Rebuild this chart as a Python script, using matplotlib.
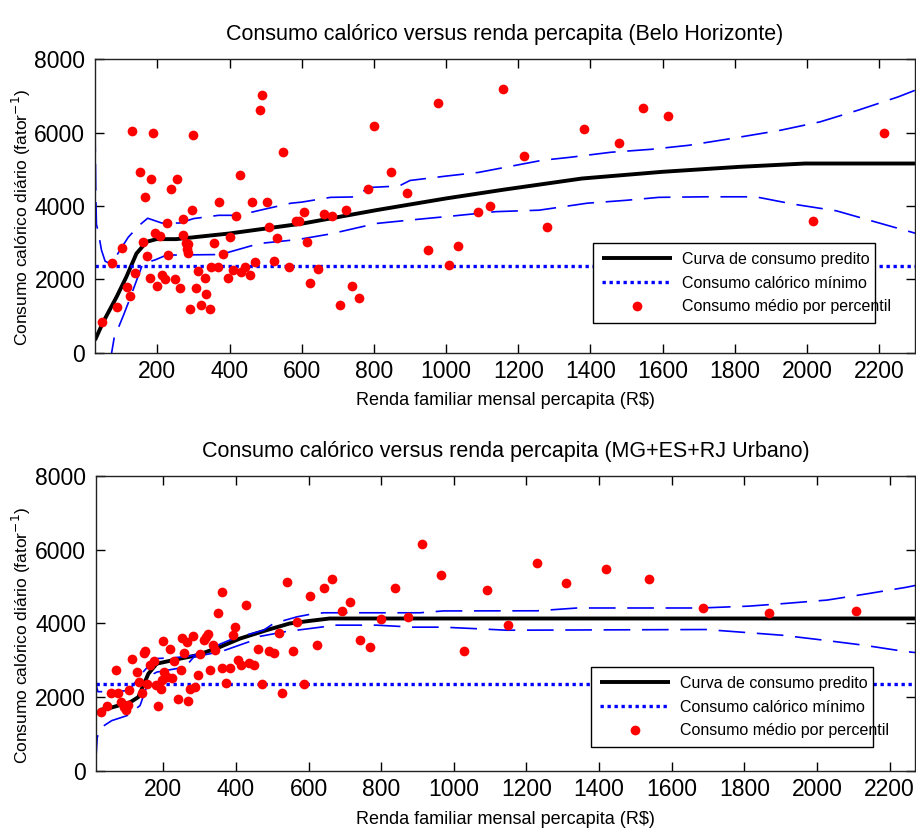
import matplotlib
matplotlib.use('Agg')
import matplotlib.pyplot as plt
import numpy as np

plt.rcParams['font.family'] = ['Liberation Sans', 'DejaVu Sans']

# --- Belo Horizonte ---
bh_renda = [47, 88, 74, 102, 116, 125, 137, 130, 188, 152, 183, 166, 161, 170, 180, 198,
            193, 207, 212, 221, 226, 230, 239, 253, 249, 262, 272, 295, 272, 278, 286, 281,
            286, 300, 289, 308, 312, 322, 331, 336, 345, 349, 368, 358, 381, 372, 395, 400,
            409, 417, 428, 432, 443, 458, 463, 471, 485, 490, 504, 509, 532, 523, 549, 564,
            583, 592, 606, 614, 622, 645, 661, 683, 705, 724, 738, 760, 784, 801, 847, 893,
            951, 979, 1007, 1033, 1089, 1121, 1157, 1216, 1281, 1382, 1479, 1546, 1615, 2016, 2214]
bh_consumo = [845, 1254, 2454, 2863, 1783, 1546, 2181, 6053, 5998, 4918, 4735, 4236, 3026, 2636,
              2045, 1827, 3263, 3173, 2110, 2001, 3544, 2655, 4463, 4754, 2001, 1764, 3637, 3890,
              3209, 2982, 2955, 2818, 2709, 5935, 1200, 1764, 2227, 1300, 2045, 1591, 1200, 2336,
              2336, 2982, 2691, 4117, 2045, 3146, 2255, 3735, 4863, 2209, 2345, 2118, 4117, 2464,
              6636, 7045, 4117, 3435, 3135, 2508, 5490, 2345, 3599, 3599, 3827, 3018, 1891, 2282,
              3781, 3727, 1309, 3890, 1827, 1491, 4463, 6180, 4918, 4345, 2800, 6800, 2400, 2918,
              3836, 4009, 7208, 5371, 3427, 6108, 5709, 6690, 6462, 3599, 5998]

bh_curva_x = [27, 50, 87, 114, 142, 170, 197, 252, 400, 603, 806, 999, 1160, 1377, 1599, 1811, 1995, 2300]
bh_curva_y = [346, 845, 1527, 2072, 2709, 3027, 3100, 3100, 3255, 3527, 3890, 4209, 4450, 4754, 4936, 5071, 5163, 5163]

bh_sup_x = [27, 29, 31, 36, 45, 55, 65, 77, 119, 150, 173, 212, 262, 300, 370, 425, 485, 570,
            600, 680, 740, 790, 870, 900, 1000, 1090, 1175, 1266, 1346, 1457, 1568, 1673, 1791,
            1927, 2037, 2143, 2253, 2300]
bh_sup_y = [6200, 4500, 3500, 3300, 2800, 2500, 2450, 2500, 3150, 3480, 3670, 3540, 3540, 3660,
            3750, 3750, 3890, 4080, 4110, 4240, 4250, 4510, 4550, 4700, 4820, 4920, 5080, 5250,
            5335, 5470, 5550, 5660, 5845, 6070, 6300, 6620, 6980, 7160]

bh_inf_x = [68, 80, 105, 119, 160, 192, 225, 372, 400, 483, 590, 681, 806, 907, 1017, 1138,
            1258, 1391, 1500, 1590, 1720, 1858, 1963, 2082, 2189, 2300]
bh_inf_y = [-300, 400, 1000, 1355, 2445, 2527, 2664, 2680, 2750, 2982, 3090, 3245, 3527, 3627,
            3730, 3850, 3890, 4080, 4160, 4240, 4255, 4255, 4054, 3872, 3572, 3263]

# --- MG+ES+RJ Urbano ---
mg_renda = [28, 46, 55, 69, 74, 83, 91, 98, 104, 107, 114, 129, 132, 141, 147, 150, 156, 164,
            175, 180, 186, 193, 196, 200, 202, 211, 219, 223, 230, 241, 248, 251, 257, 266, 269,
            274, 283, 287, 296, 301, 312, 319, 324, 329, 336, 342, 351, 361, 363, 373, 384, 393,
            397, 406, 413, 427, 437, 449, 461, 473, 492, 504, 519, 528, 542, 556, 569, 588, 605,
            624, 642, 665, 692, 715, 743, 770, 800, 837, 874, 911, 964, 1028, 1091, 1150, 1228,
            1309, 1419, 1536, 1687, 1869, 2108]
mg_consumo = [1592, 1774, 2109, 2728, 2109, 1864, 1747, 1656, 1792, 2201, 3027, 2681, 2409, 2119,
              3199, 3250, 2365, 2864, 2981, 2319, 1765, 2228, 2455, 3526, 2681, 2545, 3319, 2529,
              2981, 1946, 2728, 3608, 3199, 3499, 1891, 2228, 3654, 2273, 2591, 3163, 3545, 3635,
              3728, 2728, 3409, 3273, 4272, 4845, 2801, 2392, 2801, 3681, 3891, 3019, 2864, 4499,
              2926, 2864, 3300, 2346, 3254, 3199, 3755, 2109, 5134, 3245, 4027, 2346, 4744, 3428,
              4970, 5199, 4344, 4572, 3545, 3362, 4109, 4970, 4164, 6161, 5308, 3254, 4907, 3954,
              5651, 5090, 5480, 5199, 4409, 4272, 4344]

mg_curva_x = [26, 54, 109, 131, 159, 182, 237, 292, 356, 411, 484, 548, 603, 658, 2280]
mg_curva_y = [1656, 1711, 1864, 2000, 2637, 2910, 3027, 3136, 3362, 3590, 3817, 4000, 4070, 4135, 4135]

mg_sup_x = [14, 16, 20, 60, 105, 146, 177, 255, 284, 366, 393, 476, 504, 568, 605, 642, 788,
            907, 971, 1230, 1340, 1680, 1812, 1915, 2028, 2135, 2245, 2280]
mg_sup_y = [2750, 2300, 2150, 2150, 2180, 2700, 3045, 3090, 3136, 3480, 3590, 3817, 4000, 4180,
            4250, 4290, 4290, 4290, 4340, 4344, 4420, 4420, 4470, 4545, 4635, 4800, 4980, 5050]

mg_inf_x = [14, 18, 26, 40, 58, 100, 109, 136, 154, 174, 182, 260, 284, 339, 356, 448, 466, 548,
            567, 640, 658, 788, 888, 970, 1080, 1145, 1694, 1804, 1905, 2020, 2130, 2239, 2280]
mg_inf_y = [250, 900, 1150, 1250, 1365, 1500, 1565, 1774, 2273, 2637, 2681, 2817, 3090, 3200,
            3226, 3545, 3650, 3800, 3817, 3908, 3954, 3954, 3900, 3900, 3850, 3817, 3836, 3755,
            3680, 3545, 3409, 3245, 3200]

consumo_minimo = 2370
xticks = list(range(200, 2400, 200))
yticks = [0, 2000, 4000, 6000, 8000]

paineis = [
    dict(titulo='Consumo calórico versus renda percapita (Belo Horizonte)',
         rect=[0.1037, 0.579, 0.8953, 0.350], xlim=(27, 2300),
         renda=bh_renda, consumo=bh_consumo, cx=bh_curva_x, cy=bh_curva_y,
         sx=bh_sup_x, sy=bh_sup_y, ix=bh_inf_x, iy=bh_inf_y, leg=(585, 233, 298, 100)),
    dict(titulo='Consumo calórico versus renda percapita (MG+ES+RJ Urbano)',
         rect=[0.1045, 0.080, 0.8945, 0.352], xlim=(14, 2270),
         renda=mg_renda, consumo=mg_consumo, cx=mg_curva_x, cy=mg_curva_y,
         sx=mg_sup_x, sy=mg_sup_y, ix=mg_inf_x, iy=mg_inf_y, leg=(583, 657, 298, 100)),
]

W, H = 916, 838
fig = plt.figure(figsize=(W / 100, H / 100), dpi=100)

for p in paineis:
    ax = fig.add_axes(p['rect'])
    h1, = ax.plot(p['cx'], p['cy'], color='black', lw=2.8, solid_capstyle='butt')
    ax.plot(p['sx'], p['sy'], color='blue', lw=1.2, linestyle=(0, (16, 7)))
    ax.plot(p['ix'], p['iy'], color='blue', lw=1.2, linestyle=(0, (16, 7)))
    h2 = ax.axhline(consumo_minimo, color='blue', lw=2.4, linestyle=(0, (1, 1.1)))
    h3, = ax.plot(p['renda'], p['consumo'], 'o', color='red', markersize=7, markeredgewidth=0)

    ax.set_xlim(p['xlim'])
    ax.set_ylim(0, 8000)
    ax.set_xticks(xticks)
    ax.set_yticks(yticks)
    ax.tick_params(direction='in', length=6.5, width=1, top=True, right=True,
                   labelsize=16.5, pad=5)
    ax.tick_params(axis='y', pad=7)
    for s in ax.spines.values():
        s.set_linewidth(1.0)
        s.set_color('#222222')
    ax.set_title(p['titulo'], fontsize=15.5, pad=14)
    ax.set_xlabel('Renda familiar mensal percapita (R\\$)', fontsize=13, labelpad=7)
    ax.set_ylabel('Consumo calórico diário (fator$^{-1}$)', fontsize=12.5)
    ax.yaxis.set_label_coords(-0.076, 0.46)

    lx, ly, lw_, lh = p['leg']
    bbox = (lx / W, 1 - (ly + lh) / H, lw_ / W, lh / H)
    leg = ax.legend([h1, h2, h3],
                    ['Curva de consumo predito', 'Consumo calórico mínimo',
                     'Consumo médio por percentil'],
                    bbox_to_anchor=bbox, bbox_transform=fig.transFigure,
                    loc='center', mode='expand', fontsize=11.5, frameon=True,
                    fancybox=False, edgecolor='black', framealpha=1,
                    handlelength=4.4, handletextpad=0.6, borderpad=0.55,
                    labelspacing=0.55)
    leg.get_frame().set_linewidth(1.0)

fig.savefig('out.png', dpi=100)
